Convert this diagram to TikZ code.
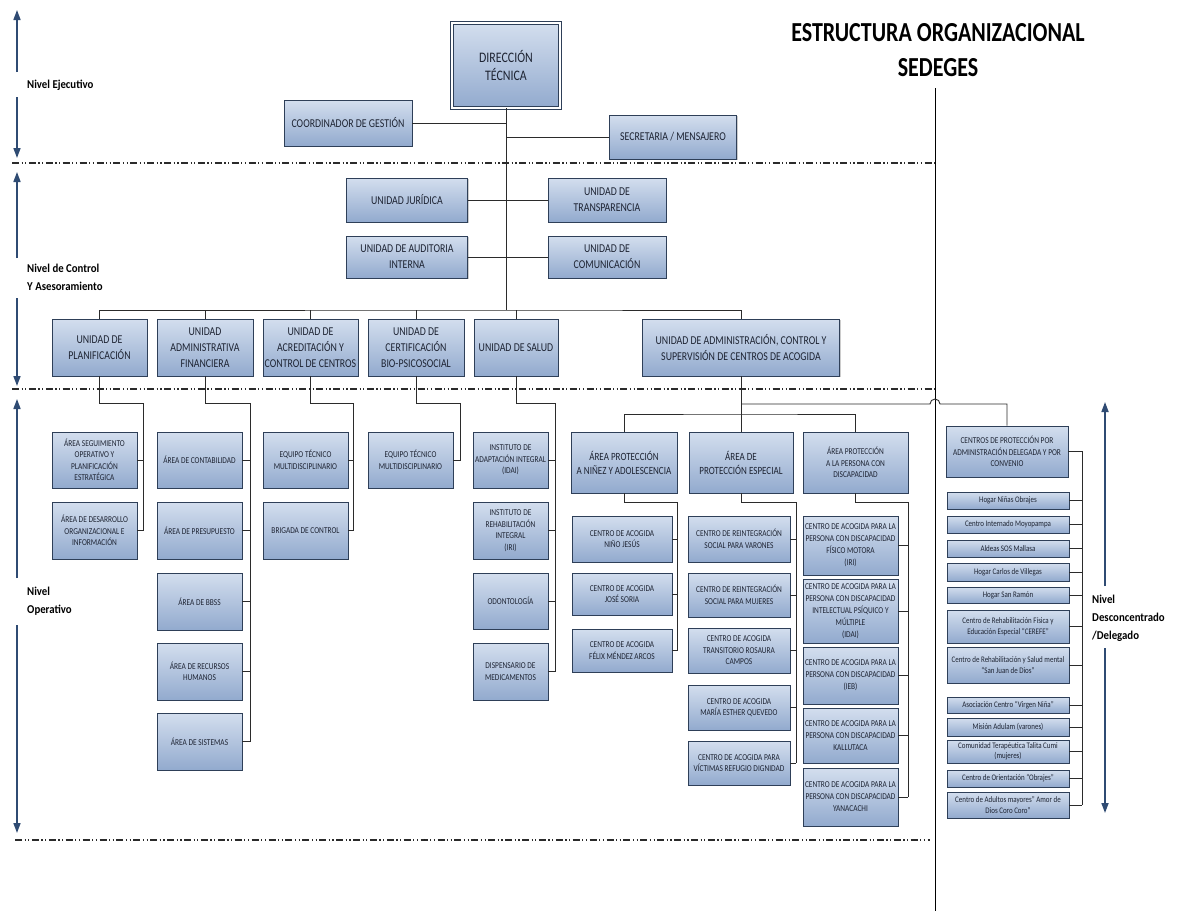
\documentclass[tikz,border=0pt]{standalone}
\usepackage{fontspec}
\setmainfont{Carlito}
\newfontfamily\cond[FakeStretch=0.82]{Carlito}
\newfontfamily\labf[FakeStretch=0.9]{Carlito}
\newfontfamily\titlef[FakeStretch=0.8]{Carlito}
\usetikzlibrary{shadows,arrows.meta}
\definecolor{boxtop}{HTML}{D3DEEE}
\definecolor{boxbot}{HTML}{92AACE}
\definecolor{boxdraw}{HTML}{2E3F58}
\definecolor{txt}{HTML}{1E2433}
\definecolor{arr}{HTML}{2F4B73}
\definecolor{ln}{HTML}{2B2B2B}
\tikzset{
  obox/.style={rectangle, draw=boxdraw, line width=0.8pt, top color=boxtop, bottom color=boxbot,
    drop shadow={shadow xshift=1.3pt, shadow yshift=-1.3pt, opacity=0.4},
    align=center, inner sep=1pt, text=txt},
  ubox/.style={obox, font=\cond\fontsize{12}{16}\selectfont},
  abox/.style={obox, font=\cond\fontsize{11}{14}\selectfont},
  sbox/.style={obox, font=\cond\fontsize{9}{11.5}\selectfont},
  pbox/.style={obox, font=\cond\fontsize{9}{12}\selectfont},
  lbox/.style={obox, font=\cond\fontsize{8.5}{10.5}\selectfont},
  conn/.style={draw=ln, line width=0.9pt},
  lvl/.style={draw=ln, line width=1.4pt, dash pattern=on 7pt off 2.5pt on 1.2pt off 2.5pt on 1.2pt off 2.5pt},
  larr/.style={draw=arr, line width=1.6pt, -{Triangle[width=7pt,length=10pt]}},
  lab/.style={font=\labf\bfseries\fontsize{12}{18}\selectfont, text=black, inner sep=0pt, align=left},
  wh/.style n args={2}{minimum width=#1pt, minimum height=#2pt},
}
\begin{document}
\begin{tikzpicture}[x=1pt,y=-1pt]
\fill[white] (0,0) rectangle (1180,911);
\useasboundingbox (0,0) rectangle (1180,911);

% title
\node[font=\titlef\bfseries\fontsize{27.5}{30}\selectfont, text=black] (t1) at (938,33) {ESTRUCTURA ORGANIZACIONAL};
\node[font=\titlef\bfseries\fontsize{27.5}{30}\selectfont, text=black] (t2) at (938,68) {SEDEGES};
\coordinate (tl1) at (935,88);
\coordinate (tl2) at (935,911);
\draw[draw=black, line width=0.8pt] (tl1) -- (tl2);

% level dashed lines
\coordinate (d1a) at (12,163); \coordinate (d1b) at (935,163);
\coordinate (d2a) at (12,389); \coordinate (d2b) at (935,389);
\coordinate (d3a) at (15,840); \coordinate (d3b) at (930,840);
\draw[lvl] (d1a) -- (d1b);
\draw[lvl] (d2a) -- (d2b);
\draw[lvl] (d3a) -- (d3b);

% level labels and arrows
\node[lab, anchor=west] (n1) at (27,85) {Nivel Ejecutivo};
\node[lab, anchor=west] (n2) at (27,277.5) {Nivel de Control\\Y Asesoramiento};
\node[lab, anchor=west] (n3) at (27,601) {Nivel\\Operativo};
\node[lab, anchor=west] (n4) at (1092,618) {Nivel\\Desconcentrado\\/Delegado};
\coordinate (a1t) at (17,10);  \coordinate (a1u) at (17,72);
\coordinate (a1l) at (17,97);  \coordinate (a1b) at (17,158);
\coordinate (a2t) at (17,172); \coordinate (a2u) at (17,258);
\coordinate (a2l) at (17,298); \coordinate (a2b) at (17,386);
\coordinate (a3t) at (17,399); \coordinate (a3u) at (17,578);
\coordinate (a3l) at (17,625); \coordinate (a3b) at (17,833);
\coordinate (a4t) at (1105,402); \coordinate (a4u) at (1105,586);
\coordinate (a4l) at (1105,648); \coordinate (a4b) at (1105,813);
\draw[larr] (a1u) -- (a1t); \draw[larr] (a1l) -- (a1b);
\draw[larr] (a2u) -- (a2t); \draw[larr] (a2l) -- (a2b);
\draw[larr] (a3u) -- (a3t); \draw[larr] (a3l) -- (a3b);
\draw[larr] (a4u) -- (a4t); \draw[larr] (a4l) -- (a4b);

% executive level
\node[obox, double=white, double distance=1.6pt, font=\cond\fontsize{14.5}{18}\selectfont, wh={108}{85}] (dir) at (506,65.5) {DIRECCIÓN\\TÉCNICA};
\node[ubox, wh={128}{46}] (coord) at (348,123) {COORDINADOR DE GESTIÓN};
\node[ubox, wh={127}{44}] (sec) at (673,137) {SECRETARIA / MENSAJERO};

% control level
\node[ubox, wh={121}{44}] (jur) at (407,200) {UNIDAD JURÍDICA};
\node[ubox, wh={118}{44}] (trans) at (607,200) {UNIDAD DE\\TRANSPARENCIA};
\node[ubox, wh={121}{42}] (aud) at (407,257) {UNIDAD DE AUDITORIA\\INTERNA};
\node[ubox, wh={118}{42}] (com) at (607,257) {UNIDAD DE\\COMUNICACIÓN};

% units
\node[ubox, wh={95}{57}] (plan) at (99.5,347.5) {UNIDAD DE\\PLANIFICACIÓN};
\node[ubox, wh={96}{57}] (adm) at (205,347.5) {UNIDAD\\ADMINISTRATIVA\\FINANCIERA};
\node[ubox, wh={95}{57}] (acr) at (310.5,347.5) {UNIDAD DE\\ACREDITACIÓN Y\\CONTROL DE CENTROS};
\node[ubox, wh={96}{57}] (cert) at (416,347.5) {UNIDAD DE\\CERTIFICACIÓN\\BIO-PSICOSOCIAL};
\node[ubox, wh={84}{57}] (sal) at (516,347.5) {UNIDAD DE SALUD};
\node[ubox, wh={197}{57}] (aca) at (741,347.5) {UNIDAD DE  ADMINISTRACIÓN, CONTROL Y\\SUPERVISIÓN DE CENTROS DE ACOGIDA};

% top connectors
\coordinate (bus) at (506,310);
\draw[conn] (dir.south) -- (bus);
\draw[conn] (coord.east) -- (coord.east -| dir.south);
\draw[conn] (sec.west) -- (sec.west -| dir.south);
\draw[conn] (jur.east) -- (trans.west);
\draw[conn] (aud.east) -- (com.west);
\draw[conn] (plan.north) |- (bus) -| (aca.north);
\draw[conn] (adm.north) -- (adm.north |- bus);
\draw[conn] (acr.north) -- (acr.north |- bus);
\draw[conn] (cert.north) -- (cert.north |- bus);
\draw[conn] (sal.north) -- (sal.north |- bus);

% planificacion
\node[sbox, wh={85}{56}] (pa1) at (94.5,460) {ÁREA SEGUIMIENTO\\OPERATIVO Y\\PLANIFICACIÓN\\ESTRATÉGICA};
\node[sbox, wh={85}{57}] (pa2) at (94.5,530.5) {ÁREA DE DESARROLLO\\ORGANIZACIONAL E\\INFORMACIÓN};
\coordinate (plS) at (143,403);
\draw[conn] (plan.south) |- (plS) -- (plS |- pa2.east);
\foreach \n in {pa1,pa2} \draw[conn] (\n.east) -- (\n.east -| plS);

% administrativa financiera
\node[sbox, wh={85}{56}] (af1) at (199.5,460) {ÁREA DE CONTABILIDAD};
\node[sbox, wh={85}{57}] (af2) at (199.5,530.5) {ÁREA DE PRESUPUESTO};
\node[sbox, wh={85}{57}] (af3) at (199.5,601.5) {ÁREA DE BBSS};
\node[sbox, wh={85}{57}] (af4) at (199.5,671.5) {ÁREA DE RECURSOS\\HUMANOS};
\node[sbox, wh={85}{57}] (af5) at (199.5,741.5) {ÁREA DE SISTEMAS};
\coordinate (afS) at (250,403);
\draw[conn] (adm.south) |- (afS) -- (afS |- af5.east);
\foreach \n in {af1,af2,af3,af4,af5} \draw[conn] (\n.east) -- (\n.east -| afS);

% acreditacion
\node[sbox, wh={85}{56}] (ac1) at (305.5,460) {EQUIPO TÉCNICO\\MULTIDISCIPLINARIO};
\node[sbox, wh={85}{57}] (ac2) at (305.5,530.5) {BRIGADA DE CONTROL};
\coordinate (acS) at (353,403);
\draw[conn] (acr.south) |- (acS) -- (acS |- ac2.east);
\foreach \n in {ac1,ac2} \draw[conn] (\n.east) -- (\n.east -| acS);

% certificacion
\node[sbox, wh={85}{56}] (ct1) at (410.5,460) {EQUIPO TÉCNICO\\MULTIDISCIPLINARIO};
\coordinate (ctS) at (460,403);
\draw[conn] (cert.south) |- (ctS) -- (ctS |- ct1.east) -- (ct1.east);

% salud
\node[sbox, wh={75}{56}] (sa1) at (510.5,460) {INSTITUTO DE\\ADAPTACIÓN INTEGRAL\\(IDAI)};
\node[sbox, wh={75}{57}] (sa2) at (510.5,530.5) {INSTITUTO DE\\REHABILITACIÓN\\INTEGRAL\\(IRI)};
\node[sbox, wh={75}{56}] (sa3) at (510.5,601) {ODONTOLOGÍA};
\node[sbox, wh={75}{57}] (sa4) at (510.5,671.5) {DISPENSARIO DE\\MEDICAMENTOS};
\coordinate (saS) at (555,403);
\draw[conn] (sal.south) |- (saS) -- (saS |- sa4.east);
\foreach \n in {sa1,sa2,sa3,sa4} \draw[conn] (\n.east) -- (\n.east -| saS);

% areas under administracion, control y supervision
\node[abox, wh={106}{61}] (apn) at (624,462.5) {ÁREA PROTECCIÓN\\A NIÑEZ Y ADOLESCENCIA};
\node[abox, wh={104}{61}] (ape) at (741,462.5) {ÁREA DE\\PROTECCIÓN ESPECIAL};
\node[sbox, wh={105}{61}] (apd) at (855.5,462.5) {ÁREA PROTECCIÓN\\A LA PERSONA CON\\DISCAPACIDAD};
\node[sbox, wh={122}{51}] (cpd) at (1007,451.5) {CENTROS DE PROTECCIÓN POR\\ADMINISTRACIÓN DELEGADA Y POR\\CONVENIO};
\coordinate (bB) at (741,414);
\coordinate (bA) at (741,404);
\coordinate (hop) at (930,404);
\draw[conn] (aca.south) -- (bB);
\draw[conn] (apn.north) |- (bB) -| (apd.north);
\draw[conn] (bB) -- (ape.north);
\draw[conn] (bA) -- (hop) arc[start angle=180, end angle=360, radius=5] -| (cpd.north);

% ninez
\node[sbox, wh={100}{46}] (ca1) at (622,539) {CENTRO DE ACOGIDA\\NIÑO JESÚS};
\node[sbox, wh={100}{42}] (ca2) at (622,594) {CENTRO DE ACOGIDA\\JOSÉ SORIA};
\node[sbox, wh={100}{43}] (ca3) at (622,650.5) {CENTRO DE ACOGIDA\\FÉLIX MÉNDEZ ARCOS};
\coordinate (caS) at (677,502);
\draw[conn] (apn.south) |- (caS) -- (caS |- ca3.east);
\foreach \n in {ca1,ca2,ca3} \draw[conn] (\n.east) -- (\n.east -| caS);

% proteccion especial
\node[sbox, wh={102}{46}] (pe1) at (739,539) {CENTRO DE REINTEGRACIÓN\\SOCIAL PARA VARONES};
\node[sbox, wh={102}{44}] (pe2) at (739,595) {CENTRO DE REINTEGRACIÓN\\SOCIAL PARA MUJERES};
\node[sbox, wh={102}{45}] (pe3) at (739,650.5) {CENTRO DE ACOGIDA\\TRANSITORIO ROSAURA\\CAMPOS};
\node[sbox, wh={102}{45}] (pe4) at (739,707.5) {CENTRO DE ACOGIDA\\MARÍA ESTHER QUEVEDO};
\node[sbox, wh={102}{44}] (pe5) at (739,763) {CENTRO DE ACOGIDA PARA\\VÍCTIMAS REFUGIO DIGNIDAD};
\coordinate (peS) at (796,502);
\draw[conn] (ape.south) |- (peS) -- (peS |- pe5.east);
\foreach \n in {pe1,pe2,pe3,pe4,pe5} \draw[conn] (\n.east) -- (\n.east -| peS);

% discapacidad
\node[pbox, wh={95}{59}] (pd1) at (850.5,545.5) {CENTRO DE ACOGIDA PARA LA\\PERSONA CON DISCAPACIDAD\\FÍSICO MOTORA\\(IRI)};
\node[pbox, wh={95}{64}] (pd2) at (850.5,611) {CENTRO DE ACOGIDA PARA LA\\PERSONA CON DISCAPACIDAD\\INTELECTUAL PSÍQUICO Y\\MÚLTIPLE\\(IDAI)};
\node[pbox, wh={95}{57}] (pd3) at (850.5,675.5) {CENTRO DE ACOGIDA PARA LA\\PERSONA CON DISCAPACIDAD\\(IEB)};
\node[pbox, wh={95}{55}] (pd4) at (850.5,735.5) {CENTRO DE ACOGIDA PARA LA\\PERSONA CON DISCAPACIDAD\\KALLUTACA};
\node[pbox, wh={95}{58}] (pd5) at (850.5,797) {CENTRO DE ACOGIDA PARA LA\\PERSONA CON DISCAPACIDAD\\YANACACHI};
\coordinate (pdS) at (908,502);
\draw[conn] (apd.south) |- (pdS) -- (pdS |- pd5.east);
\foreach \n in {pd1,pd2,pd3,pd4,pd5} \draw[conn] (\n.east) -- (\n.east -| pdS);

% delegated centres
\node[lbox, wh={122}{17}] (r1) at (1008,500.5) {Hogar Niñas Obrajes};
\node[lbox, wh={122}{17}] (r2) at (1008,524.5) {Centro Internado Moyopampa};
\node[lbox, wh={122}{17}] (r3) at (1008,548.5) {Aldeas SOS Mallasa};
\node[lbox, wh={122}{18}] (r4) at (1008,572) {Hogar Carlos de Villegas};
\node[lbox, wh={122}{16}] (r5) at (1008,595) {Hogar San Ramón};
\node[lbox, wh={122}{33}] (r6) at (1008,626.5) {Centro de Rehabilitación Física y\\Educación Especial “CEREFE”};
\node[lbox, wh={122}{36}] (r7) at (1008,665) {Centro de Rehabilitación y Salud mental\\“San Juan de Dios”};
\node[lbox, wh={122}{16}] (r8) at (1008,705) {Asociación Centro “Virgen Niña”};
\node[lbox, wh={122}{18}] (r9) at (1008,727) {Misión Adulam (varones)};
\node[lbox, wh={122}{23}] (r10) at (1008,751.5) {Comunidad Terapéutica Talita Cumi\\(mujeres)};
\node[lbox, wh={122}{17}] (r11) at (1008,778.5) {Centro de Orientación “Obrajes”};
\node[lbox, wh={122}{26}] (r12) at (1008,805) {Centro de Adultos mayores” Amor de\\Dios Coro Coro”};
\coordinate (cpS) at (1082,451.5);
\draw[conn] (cpd.east) -- (cpS) -- (cpS |- r12.east);
\foreach \n in {r1,r2,r3,r4,r5,r6,r7,r8,r9,r10,r11,r12} \draw[conn] (\n.east) -- (\n.east -| cpS);
\end{tikzpicture}
\end{document}
